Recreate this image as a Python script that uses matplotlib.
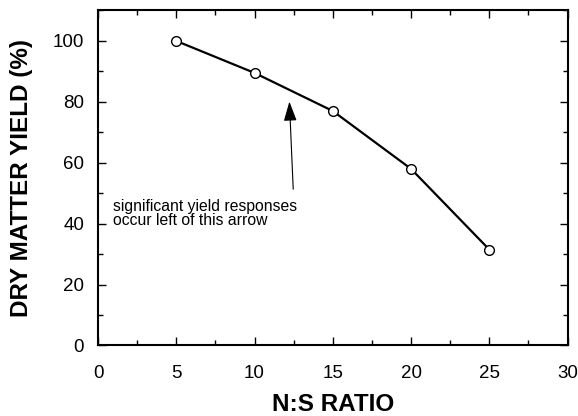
import matplotlib
matplotlib.use("Agg")
import matplotlib.pyplot as plt
from matplotlib.ticker import MultipleLocator

plt.rcParams['font.family'] = ['Liberation Sans', 'DejaVu Sans']

ns_ratio = [5, 10, 15, 20, 25]
dry_matter_yield = [100, 89.5, 77, 58, 31.5]
x_ticks = [0, 5, 10, 15, 20, 25, 30]
y_ticks = [0, 20, 40, 60, 80, 100]

fig = plt.figure(figsize=(5.78, 4.16), dpi=100)
ax = fig.add_axes([0.1696, 0.1695, 0.8123, 0.8053])

ax.plot(ns_ratio, dry_matter_yield, color='black', lw=1.6, marker='o',
        markersize=7, markerfacecolor='white', markeredgecolor='black',
        markeredgewidth=1.0, zorder=3)

ax.set_xlim(0, 30)
ax.set_ylim(0, 110)
ax.set_xticks(x_ticks)
ax.set_yticks(y_ticks)
ax.xaxis.set_minor_locator(MultipleLocator(2.5))
ax.yaxis.set_minor_locator(MultipleLocator(10))
ax.tick_params(which='both', direction='in', top=True, right=True,
               labeltop=False, labelright=False)
ax.tick_params(which='major', length=6, width=1.0, labelsize=13.5)
ax.tick_params(axis='x', which='major', pad=14)
ax.tick_params(axis='y', which='major', pad=10)
ax.tick_params(which='minor', length=3.5, width=1.0)
for s in ax.spines.values():
    s.set_linewidth(1.5)

ax.set_xlabel('N:S RATIO', fontsize=17.5, fontweight='bold', labelpad=8)
ax.set_ylabel('DRY MATTER YIELD (%)', fontsize=17.5, fontweight='bold', labelpad=14)

ax.annotate('', xy=(12.22, 81.0), xytext=(12.48, 50.4),
            arrowprops=dict(arrowstyle='-|>,head_length=1.2,head_width=0.4',
                            color='black', lw=0.8))
ax.text(0.96, 43.4, 'significant yield responses\noccur left of this arrow',
        fontsize=11.3, va='center', ha='left', linespacing=0.9)

fig.savefig('out.png', dpi=100)
